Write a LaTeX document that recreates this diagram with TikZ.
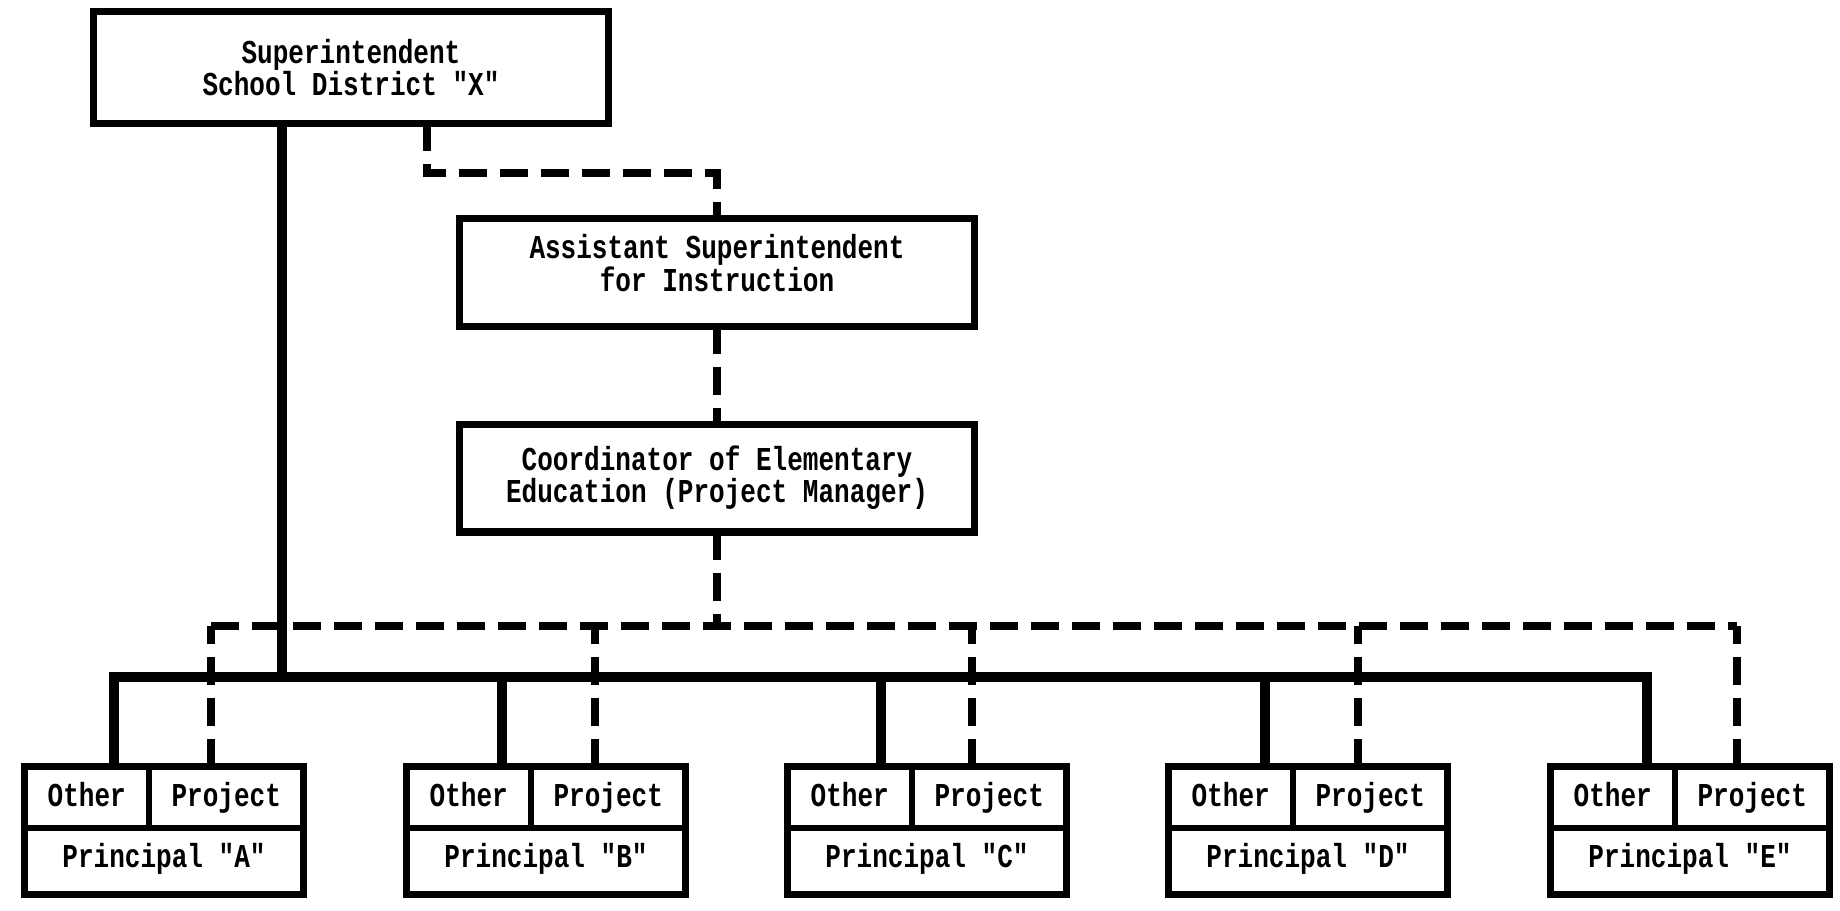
\documentclass[tikz,border=0pt]{standalone}
\usepackage{fontspec}
\newfontfamily\chartfont[FakeStretch=0.78]{Liberation Mono}
\newcommand{\orgfont}{\chartfont\bfseries\fontsize{19}{18.4}\selectfont}
\usetikzlibrary{positioning}
\tikzset{
  box/.style={draw, line width=4pt, align=center, outer sep=0pt, minimum width=10.3cm, minimum height=2.16cm, font=\orgfont},
  cell/.style={draw, line width=3.6pt, align=center, outer sep=0pt, inner sep=0pt, minimum height=1.23cm, text height=10.8pt, text depth=0pt, font=\orgfont},
  prin/.style={cell, minimum width=5.58cm, minimum height=1.33cm, text depth=4pt, anchor=north west},
  solidline/.style={line width=6.2pt},
  dashline/.style={line width=4.5pt, dash pattern=on 0.56cm off 0.26cm}
}
\begin{document}
\begin{tikzpicture}[x=0.02cm, y=-0.02cm]
    \useasboundingbox (0,0) rectangle (1840,910);
    \fill[white] (0,0) rectangle (1840,910);

    \node[box, minimum height=2.24cm] (supt) at (351,67.5) {Superintendent\\School District "X"};
    \node[box, text depth=11pt] (asst) at (717,272.5) {Assistant Superintendent\\for Instruction};
    \node[box] (coord) at (717,478) {Coordinator of Elementary\\Education (Project Manager)};

    % principals
    \node[cell, minimum width=2.49cm, anchor=north west] (othA) at (24.5,766.5) {Other};
    \node[cell, minimum width=3.09cm, right=0pt of othA] (prjA) {Project};
    \node[prin] (prinA) at (othA.south west) {Principal "A"};

    \node[cell, minimum width=2.49cm, anchor=north west] (othB) at (406.5,766.5) {Other};
    \node[cell, minimum width=3.09cm, right=0pt of othB] (prjB) {Project};
    \node[prin] (prinB) at (othB.south west) {Principal "B"};

    \node[cell, minimum width=2.49cm, anchor=north west] (othC) at (787.5,766.5) {Other};
    \node[cell, minimum width=3.09cm, right=0pt of othC] (prjC) {Project};
    \node[prin] (prinC) at (othC.south west) {Principal "C"};

    \node[cell, minimum width=2.49cm, anchor=north west] (othD) at (1168.5,766.5) {Other};
    \node[cell, minimum width=3.09cm, right=0pt of othD] (prjD) {Project};
    \node[prin] (prinD) at (othD.south west) {Principal "D"};

    \node[cell, minimum width=2.49cm, anchor=north west] (othE) at (1550.5,766.5) {Other};
    \node[cell, minimum width=3.09cm, right=0pt of othE] (prjE) {Project};
    \node[prin] (prinE) at (othE.south west) {Principal "E"};

    % line authority
    \coordinate (busS) at (282,677);
    \coordinate (busA) at (114,677);
    \coordinate (busB) at (502,677);
    \coordinate (busC) at (881,677);
    \coordinate (busD) at (1265,677);
    \coordinate (busE) at (1647,677);
    \draw[solidline] (supt.south -| busS) -- (busS);
    \draw[solidline] (othA.north -| busA) |- (busE) -- (othE.north -| busE);
    \draw[solidline] (busB) -- (othB.north -| busB);
    \draw[solidline] (busC) -- (othC.north -| busC);
    \draw[solidline] (busD) -- (othD.north -| busD);

    % project channel
    \coordinate (lnk) at (427,173);
    \draw[dashline] (supt.south -| lnk) -- (lnk) -| (asst.north);
    \draw[dashline] (asst) -- (coord);
    \coordinate (dashA) at (211,626);
    \coordinate (dashB) at (595,626);
    \coordinate (dashC) at (972,626);
    \coordinate (dashD) at (1358,626);
    \coordinate (dashE) at (1737,626);
    \draw[dashline] (coord.south) -- (coord.south |- dashA);
    \draw[dashline] (dashA) -- (dashE);
    \draw[dashline] (prjA.north -| dashA) -- (dashA);
    \draw[dashline] (prjB.north -| dashB) -- (dashB);
    \draw[dashline] (prjC.north -| dashC) -- (dashC);
    \draw[dashline] (prjD.north -| dashD) -- (dashD);
    \draw[dashline] (prjE.north -| dashE) -- (dashE);

\end{tikzpicture}
\end{document}
